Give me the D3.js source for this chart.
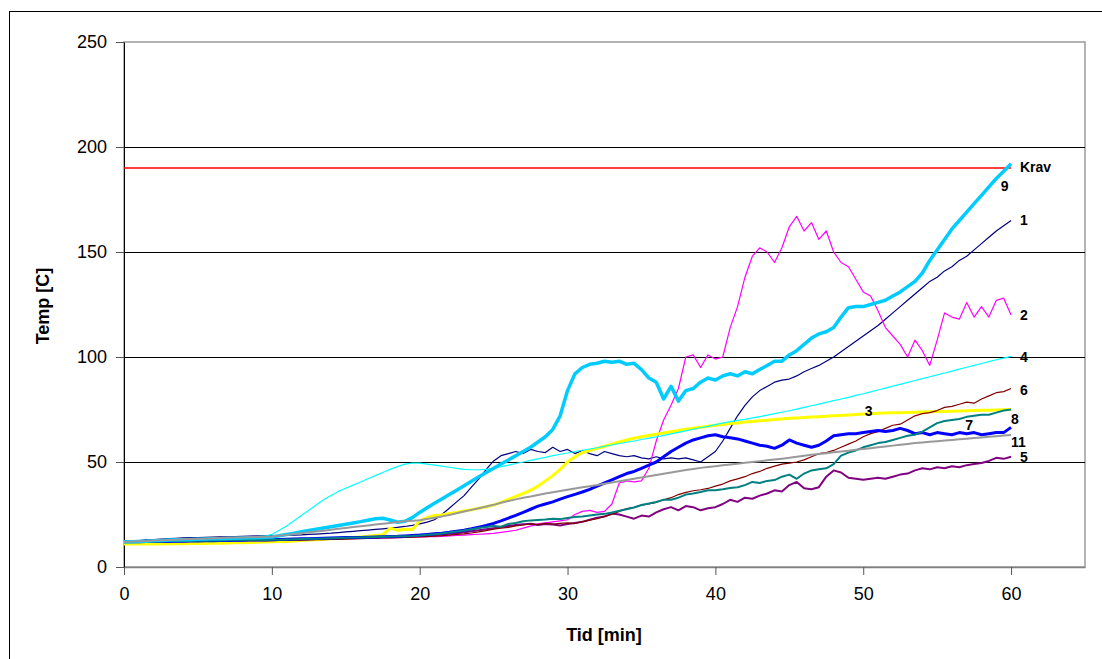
<!DOCTYPE html>
<html>
<head>
<meta charset="utf-8">
<script src="https://cdn.jsdelivr.net/npm/d3@7"></script>
<style>
  html, body { margin: 0; padding: 0; background: #fff; }
  svg { display: block; font-family: Arial, "Liberation Sans", sans-serif; }
</style>
</head>
<body>
<svg id="chart" width="1102" height="659"></svg>
<script>
// Temperatures (°C) sampled every half minute from 0 to 60 min
const timeStep = 0.5;

const krav = 190;

const s1 = [
  12, 12.3, 12.6, 12.9, 13.1, 13.3, 13.5, 13.7, 13.9, 14,
  14, 14.1, 14.2, 14.3, 14.4, 14.5, 14.6, 14.7, 14.8, 14.8,
  14.9, 15, 15.1, 15.2, 15.3, 15.5, 15.7, 15.9, 16.1, 16.4,
  16.7, 17, 17.3, 17.6, 17.9, 18.2, 18.5, 18.9, 19.3, 19.8,
  20.5, 21.4, 22.5, 25, 28, 31, 34, 38, 42, 46.5,
  50.5, 53, 54, 55, 54, 56, 55, 54.5, 57, 55,
  56, 54, 55.5, 54, 53, 55, 54, 53, 52.5, 53,
  52, 51.5, 52.5, 51.5, 52, 51.5, 52, 51, 50, 52.5,
  55, 60, 66, 72, 77, 81, 84, 86, 88, 89,
  89.5, 91, 93, 94.5, 96, 98, 100, 102.5, 105, 107.5,
  110, 112.5, 115, 118, 121, 124, 127, 130, 133, 136,
  138, 141, 143, 146, 148, 151, 154, 157, 160, 162.5,
  165
];

const s2 = [
  12, 12, 12.1, 12.1, 12.2, 12.2, 12.3, 12.3, 12.4, 12.4,
  12.5, 12.5, 12.6, 12.6, 12.7, 12.7, 12.8, 12.8, 12.9, 12.9,
  13, 13, 13.1, 13.1, 13.2, 13.2, 13.3, 13.3, 13.4, 13.4,
  13.5, 13.5, 13.6, 13.6, 13.7, 13.8, 13.9, 14, 14.1, 14.2,
  14.3, 14.4, 14.5, 14.6, 14.8, 15, 15.2, 15.4, 15.6, 15.8,
  16, 16.5, 17, 17.5, 18.5, 19.5, 20.5, 21, 21.5, 22,
  22.5, 25, 26.5, 27, 26, 26.5, 30, 40, 41, 40.5,
  41, 47, 60, 70, 77, 85, 100, 101, 95, 101,
  99, 100, 114, 124, 138, 148, 152, 150, 145, 152,
  162, 167, 160, 164, 156, 160, 150, 145, 143, 137,
  131, 129, 122, 114, 110, 106, 100, 108, 103, 96,
  108, 121, 119, 118, 126, 119, 124, 119, 127, 128,
  120
];

const s3 = [
  11, 11, 11, 11, 11, 11, 11.1, 11.1, 11.1, 11.2,
  11.2, 11.2, 11.3, 11.3, 11.4, 11.5, 11.6, 11.7, 11.8, 11.9,
  12, 12.1, 12.2, 12.4, 12.6, 12.8, 13, 13.2, 13.4, 13.6,
  13.8, 14, 14.3, 14.6, 15, 15.3, 18.5, 17.5, 18, 17.8,
  22, 23.5, 24.5, 24.8, 25.5, 26, 26.7, 27.3, 28, 28.7,
  29.5, 30.8, 32.2, 33.6, 35, 36.5, 38.5, 41, 43.5, 46.5,
  50, 52.5, 54.5, 55.5, 56.5, 57.5, 58.5, 59.5, 60.5, 61.3,
  62, 62.6, 63.2, 63.8, 64.4, 65, 65.6, 66.1, 66.6, 67,
  67.5, 67.9, 68.3, 68.6, 69, 69.3, 69.6, 69.9, 70.2, 70.5,
  70.8, 71, 71.2, 71.4, 71.6, 71.8, 72, 72.2, 72.4, 72.6,
  72.8, 73, 73.2, 73.3, 73.4, 73.5, 73.6, 73.7, 73.8, 73.9,
  74, 74.1, 74.2, 74.3, 74.4, 74.5, 74.6, 74.7, 74.8, 74.9,
  75
];

const s4 = [
  12, 12.1, 12.2, 12.4, 12.6, 12.8, 13, 13.1, 13.2, 13.3,
  13.4, 13.5, 13.6, 13.7, 13.8, 13.9, 14, 14.1, 14.3, 14.6,
  15.5, 17.5, 19.5, 22, 24.5, 27, 29.5, 32, 34, 36,
  37.5, 39, 40.5, 42, 43.5, 45, 46.5, 47.8, 49, 49.5,
  49.5, 49, 48.5, 48, 47.5, 47, 46.5, 46.3, 46.3, 46.5,
  47, 47.8, 48.5, 49.3, 50, 50.8, 51.5, 52.2, 53, 53.7,
  54.3, 55, 55.6, 56.2, 56.8, 57.5, 58.1, 58.8, 59.4, 60,
  60.7, 61.4, 62, 62.7, 63.4, 64.1, 64.8, 65.6, 66.3, 67,
  67.8, 68.5, 69.2, 69.8, 70.3, 71, 71.6, 72.3, 73, 73.7,
  74.4, 75.2, 76, 76.8, 77.6, 78.4, 79.2, 80, 80.8, 81.7,
  82.5, 83.4, 84.3, 85.2, 86.1, 87, 87.9, 88.8, 89.7, 90.6,
  91.5, 92.4, 93.3, 94.2, 95.1, 96, 96.9, 97.8, 98.7, 99.5,
  100.3
];

const s5 = [
  12, 12, 12, 12.1, 12.1, 12.2, 12.2, 12.3, 12.3, 12.4,
  12.4, 12.5, 12.5, 12.6, 12.6, 12.7, 12.7, 12.8, 12.8, 12.9,
  12.9, 13, 13, 13.1, 13.2, 13.3, 13.4, 13.5, 13.6, 13.7,
  13.8, 13.9, 14, 14.1, 14.2, 14.3, 14.4, 14.5, 14.6, 14.7,
  14.8, 15, 15.2, 15.5, 15.8, 16.1, 16.5, 17, 17.5, 18,
  18.5, 19, 19.5, 20, 20.3, 20.6, 20, 20.5, 20.2, 19.8,
  20.5, 21, 21.5, 22.5, 23.5, 24, 25.5, 25, 24, 23,
  24.5, 24, 26, 27.5, 28.5, 27, 29, 28.5, 27, 28,
  28.5, 30, 32, 31, 33, 32.5, 34, 35, 36.5, 36,
  39, 40.5, 37.5, 37, 38, 43, 46, 45, 42.5, 42,
  41.5, 42, 42.5, 42, 43, 44, 44.5, 46, 47, 46.5,
  47.5, 47, 48, 47.5, 48.5, 49, 49.5, 50.5, 52, 51.5,
  52.5
];

const s6 = [
  12, 12, 12, 12, 12.1, 12.1, 12.1, 12.2, 12.2, 12.2,
  12.3, 12.3, 12.3, 12.4, 12.4, 12.4, 12.5, 12.5, 12.5, 12.6,
  12.6, 12.7, 12.7, 12.8, 12.8, 12.9, 13, 13, 13.1, 13.2,
  13.3, 13.4, 13.5, 13.6, 13.7, 13.8, 13.9, 14, 14.1, 14.2,
  14.3, 14.5, 14.7, 14.9, 15.2, 15.5, 15.8, 16.2, 16.7, 17.3,
  18, 18.5, 18.9, 19.6, 20, 20.5, 20.2, 20.8, 20.4, 20.8,
  21, 20.7, 21.6, 22.3, 23, 24.1, 25, 26.5, 27.8, 28.4,
  29.5, 30, 30.8, 32, 33, 34.5, 35.5, 36.3, 36.8, 37.4,
  38.5, 39.5, 41, 42, 43, 44.5, 45.5, 47, 48, 49,
  49.5, 50, 51, 52.5, 54, 54.5, 55.5, 57, 58.5, 60,
  62, 63.5, 64.5, 66, 67.5, 68, 70, 72, 73, 73.5,
  74.5, 76, 76.5, 77.5, 78.5, 78, 80, 81.5, 83, 83.5,
  85
];

const s7 = [
  12, 12, 12, 12.1, 12.1, 12.2, 12.2, 12.3, 12.3, 12.4,
  12.4, 12.5, 12.5, 12.6, 12.6, 12.7, 12.7, 12.8, 12.8, 12.9,
  13, 13.1, 13.2, 13.3, 13.4, 13.5, 13.6, 13.7, 13.8, 13.9,
  14, 14, 14.1, 14.2, 14.3, 14.4, 14.5, 14.6, 14.8, 15,
  15.2, 15.5, 15.8, 16.1, 16.5, 17, 17.5, 18.2, 19, 19.8,
  20.8, 22, 23.3, 24.6, 26, 27.5, 29, 30, 31, 32.3,
  33.5, 34.6, 35.7, 37, 38.5, 40, 41.5, 43, 44.5, 45.5,
  47, 48.5, 50, 52.5, 55, 57, 59, 60.5, 61.5, 62.5,
  63, 62, 61.5, 61, 60, 59, 58, 57.5, 56.5, 58,
  60.5, 59, 58, 57, 58, 60, 62.5, 63, 63.5, 63.5,
  64, 64.5, 65, 64.5, 65, 66, 65, 63.5, 64, 63,
  64, 63.5, 63, 64, 63.5, 64, 63, 63.5, 64, 64,
  66.5
];

const s8 = [
  12, 12, 12.1, 12.1, 12.2, 12.2, 12.3, 12.3, 12.4, 12.4,
  12.5, 12.5, 12.6, 12.6, 12.7, 12.7, 12.8, 12.8, 12.9, 12.9,
  13, 13, 13.1, 13.2, 13.3, 13.4, 13.5, 13.6, 13.7, 13.8,
  13.9, 14, 14.1, 14.2, 14.3, 14.4, 14.5, 14.6, 14.7, 14.8,
  15, 15.3, 15.6, 16, 16.4, 16.9, 17.4, 18, 18.6, 19,
  19.5, 19.2, 20.5, 21, 21.8, 22.2, 22.4, 22.6, 23, 22.8,
  23.3, 23.8, 24, 24.5, 25, 25.3, 26, 26.8, 27.5, 28.3,
  29.5, 30.2, 31, 32, 32, 33, 34.5, 35, 35.7, 36.5,
  36.5, 37, 37.6, 38, 39, 40.5, 40, 41, 41.4, 43,
  44, 42, 44.5, 46, 46.5, 47, 49, 53, 54.5, 55.5,
  57, 58, 59, 59.5, 60.5, 61.5, 62.5, 63, 64.5, 66.5,
  68.5, 69.5, 70, 70.5, 71.5, 72, 72.5, 72.5, 73.5, 74.5,
  75
];

const s9 = [
  12, 12, 12.2, 12.3, 12.5, 12.6, 12.8, 13, 13, 13.1,
  13.2, 13.3, 13.4, 13.5, 13.6, 13.7, 13.8, 13.9, 14, 14.2,
  14.3, 14.9, 15.5, 16.1, 16.8, 17.4, 18, 18.6, 19.2, 19.8,
  20.4, 21, 21.6, 22.3, 23, 23.2, 22.4, 21.3, 21.8, 23.5,
  26, 28.2, 30.3, 32.4, 34.5, 36.6, 38.7, 40.8, 43, 45,
  47, 49, 51, 53, 55, 57, 59.5, 62, 65.5, 72,
  84, 92, 95, 96.5, 97, 98, 97.5, 98, 96.5, 97,
  94, 90, 88, 80, 86, 79, 84, 85, 88, 90,
  89, 91, 92, 91, 93, 92, 94, 96, 98, 98,
  101, 103, 106, 109, 111, 112, 114, 119, 123.5, 124,
  124, 125, 126, 127, 129, 131, 133.5, 136, 140, 146,
  151, 156, 161, 165, 169, 173, 177, 181, 185, 188.5,
  192
];

const s11 = [
  12, 12.1, 12.3, 12.4, 12.6, 12.7, 12.9, 13, 13.2, 13.3,
  13.4, 13.5, 13.7, 13.8, 13.9, 14, 14.1, 14.2, 14.3, 14.4,
  14.5, 14.9, 15.3, 15.7, 16.1, 16.5, 16.9, 17.3, 17.7, 18.2,
  18.6, 19, 19.4, 19.8, 20.2, 20.6, 21, 21.4, 21.8, 22,
  22.3, 22.9, 23.5, 24.1, 24.8, 25.6, 26.4, 27.2, 28, 28.8,
  29.6, 30.6, 31.4, 32.2, 33, 33.6, 34.3, 35, 35.6, 36.2,
  36.8, 37.4, 38, 38.5, 39, 39.6, 40.2, 40.8, 41.4, 42,
  42.6, 43.2, 43.8, 44.4, 45, 45.6, 46.2, 46.7, 47.2, 47.6,
  48, 48.4, 48.8, 49.2, 49.6, 50, 50.4, 50.8, 51.2, 51.6,
  52, 52.5, 53, 53.4, 53.8, 54.2, 54.6, 55, 55.4, 55.8,
  56.2, 56.6, 57, 57.4, 57.8, 58.2, 58.6, 59, 59.3, 59.6,
  59.9, 60.2, 60.5, 60.8, 61.1, 61.4, 61.7, 62, 62.3, 62.6,
  62.9
];

const yTicks = [0, 50, 100, 150, 200, 250];
const xTicks = [0, 10, 20, 30, 40, 50, 60];
const gridValues = [50, 100, 150, 200];

// Series styling, in drawing order
const series = [
  { name: "1",  values: s1,  color: "#000080", width: 1.2 },
  { name: "2",  values: s2,  color: "#ff00ff", width: 1.2 },
  { name: "3",  values: s3,  color: "#ffff00", width: 3 },
  { name: "4",  values: s4,  color: "#00ffff", width: 1.2 },
  { name: "5",  values: s5,  color: "#800080", width: 2 },
  { name: "6",  values: s6,  color: "#800000", width: 1.2 },
  { name: "7",  values: s7,  color: "#0000ff", width: 3 },
  { name: "8",  values: s8,  color: "#008080", width: 2 },
  { name: "9",  values: s9,  color: "#00ccff", width: 3.5 },
  { name: "11", values: s11, color: "#999999", width: 2 }
];

// End-of-line labels, placed in data coordinates
const labels = [
  { text: "Krav", t: 60.6, v: 190.5 },
  { text: "9",  t: 59.3, v: 181.4 },
  { text: "1",  t: 60.6, v: 165.2 },
  { text: "2",  t: 60.6, v: 120 },
  { text: "4",  t: 60.6, v: 100 },
  { text: "6",  t: 60.6, v: 84.3 },
  { text: "3",  t: 50.1, v: 74.3 },
  { text: "8",  t: 60,   v: 70.5 },
  { text: "7",  t: 56.9, v: 67.6 },
  { text: "11", t: 60,   v: 59.5 },
  { text: "5",  t: 60.6, v: 52.4 }
];

const svg = d3.select("#chart");

// Outer chart frame
svg.append("rect")
  .attr("x", 9.5).attr("y", 11.5)
  .attr("width", 1110).attr("height", 670)
  .attr("fill", "#fff").attr("stroke", "#000").attr("stroke-width", 1);

const x = d3.scaleLinear().domain([0, 65]).range([124, 1085]);
const y = d3.scaleLinear().domain([0, 250]).range([567, 42]);

// Plot area border
svg.append("rect")
  .attr("x", x(0)).attr("y", y(250))
  .attr("width", x(65) - x(0)).attr("height", y(0) - y(250))
  .attr("fill", "none").attr("stroke", "#9a9a9a").attr("stroke-width", 1.5);

// Horizontal gridlines
svg.append("g")
  .selectAll("line")
  .data(gridValues)
  .join("line")
  .attr("x1", x(0)).attr("x2", x(65))
  .attr("y1", d => Math.round(y(d)) + 0.5).attr("y2", d => Math.round(y(d)) + 0.5)
  .attr("stroke", "#000").attr("stroke-width", 1);

// Axes
const yAxis = svg.append("g")
  .attr("transform", `translate(${x(0)},0)`)
  .call(d3.axisLeft(y).tickValues(yTicks).tickSize(8).tickPadding(9).tickSizeOuter(0));
yAxis.select(".domain").attr("stroke", "#000");
yAxis.selectAll(".tick line").attr("stroke", "#555");
yAxis.selectAll("text").attr("font-size", 18).attr("fill", "#000")
  .attr("font-family", "Arial, 'Liberation Sans', sans-serif");

const xAxis = svg.append("g")
  .attr("transform", `translate(0,${y(0)})`)
  .call(d3.axisBottom(x).tickValues(xTicks).tickSize(8).tickPadding(12).tickSizeOuter(0));
xAxis.select(".domain").attr("stroke", "#808080").attr("stroke-width", 1.5);
xAxis.selectAll(".tick line").attr("stroke", "#555");
xAxis.selectAll("text").attr("font-size", 18).attr("fill", "#000")
  .attr("font-family", "Arial, 'Liberation Sans', sans-serif");

// Requirement line
svg.append("line")
  .attr("x1", x(0)).attr("x2", x(60))
  .attr("y1", y(krav)).attr("y2", y(krav))
  .attr("stroke", "#ff0000").attr("stroke-width", 1.5);

// Temperature curves
const line = d3.line()
  .x((d, i) => x(i * timeStep))
  .y(d => y(d));

svg.append("g")
  .selectAll("path")
  .data(series)
  .join("path")
  .attr("d", d => line(d.values))
  .attr("fill", "none")
  .attr("stroke", d => d.color)
  .attr("stroke-width", d => d.width)
  .attr("stroke-linejoin", "round");

// Curve labels
svg.append("g")
  .selectAll("text")
  .data(labels)
  .join("text")
  .attr("x", d => x(d.t))
  .attr("y", d => y(d.v))
  .attr("dominant-baseline", "central")
  .attr("font-size", 14)
  .attr("font-weight", "bold")
  .attr("fill", "#000")
  .text(d => d.text);

// Axis titles
svg.append("text")
  .attr("x", 604).attr("y", 641)
  .attr("text-anchor", "middle")
  .attr("font-size", 18).attr("font-weight", "bold")
  .text("Tid [min]");

svg.append("text")
  .attr("transform", "translate(49,306) rotate(-90)")
  .attr("text-anchor", "middle")
  .attr("font-size", 18).attr("font-weight", "bold")
  .text("Temp [C]");
</script>
</body>
</html>
